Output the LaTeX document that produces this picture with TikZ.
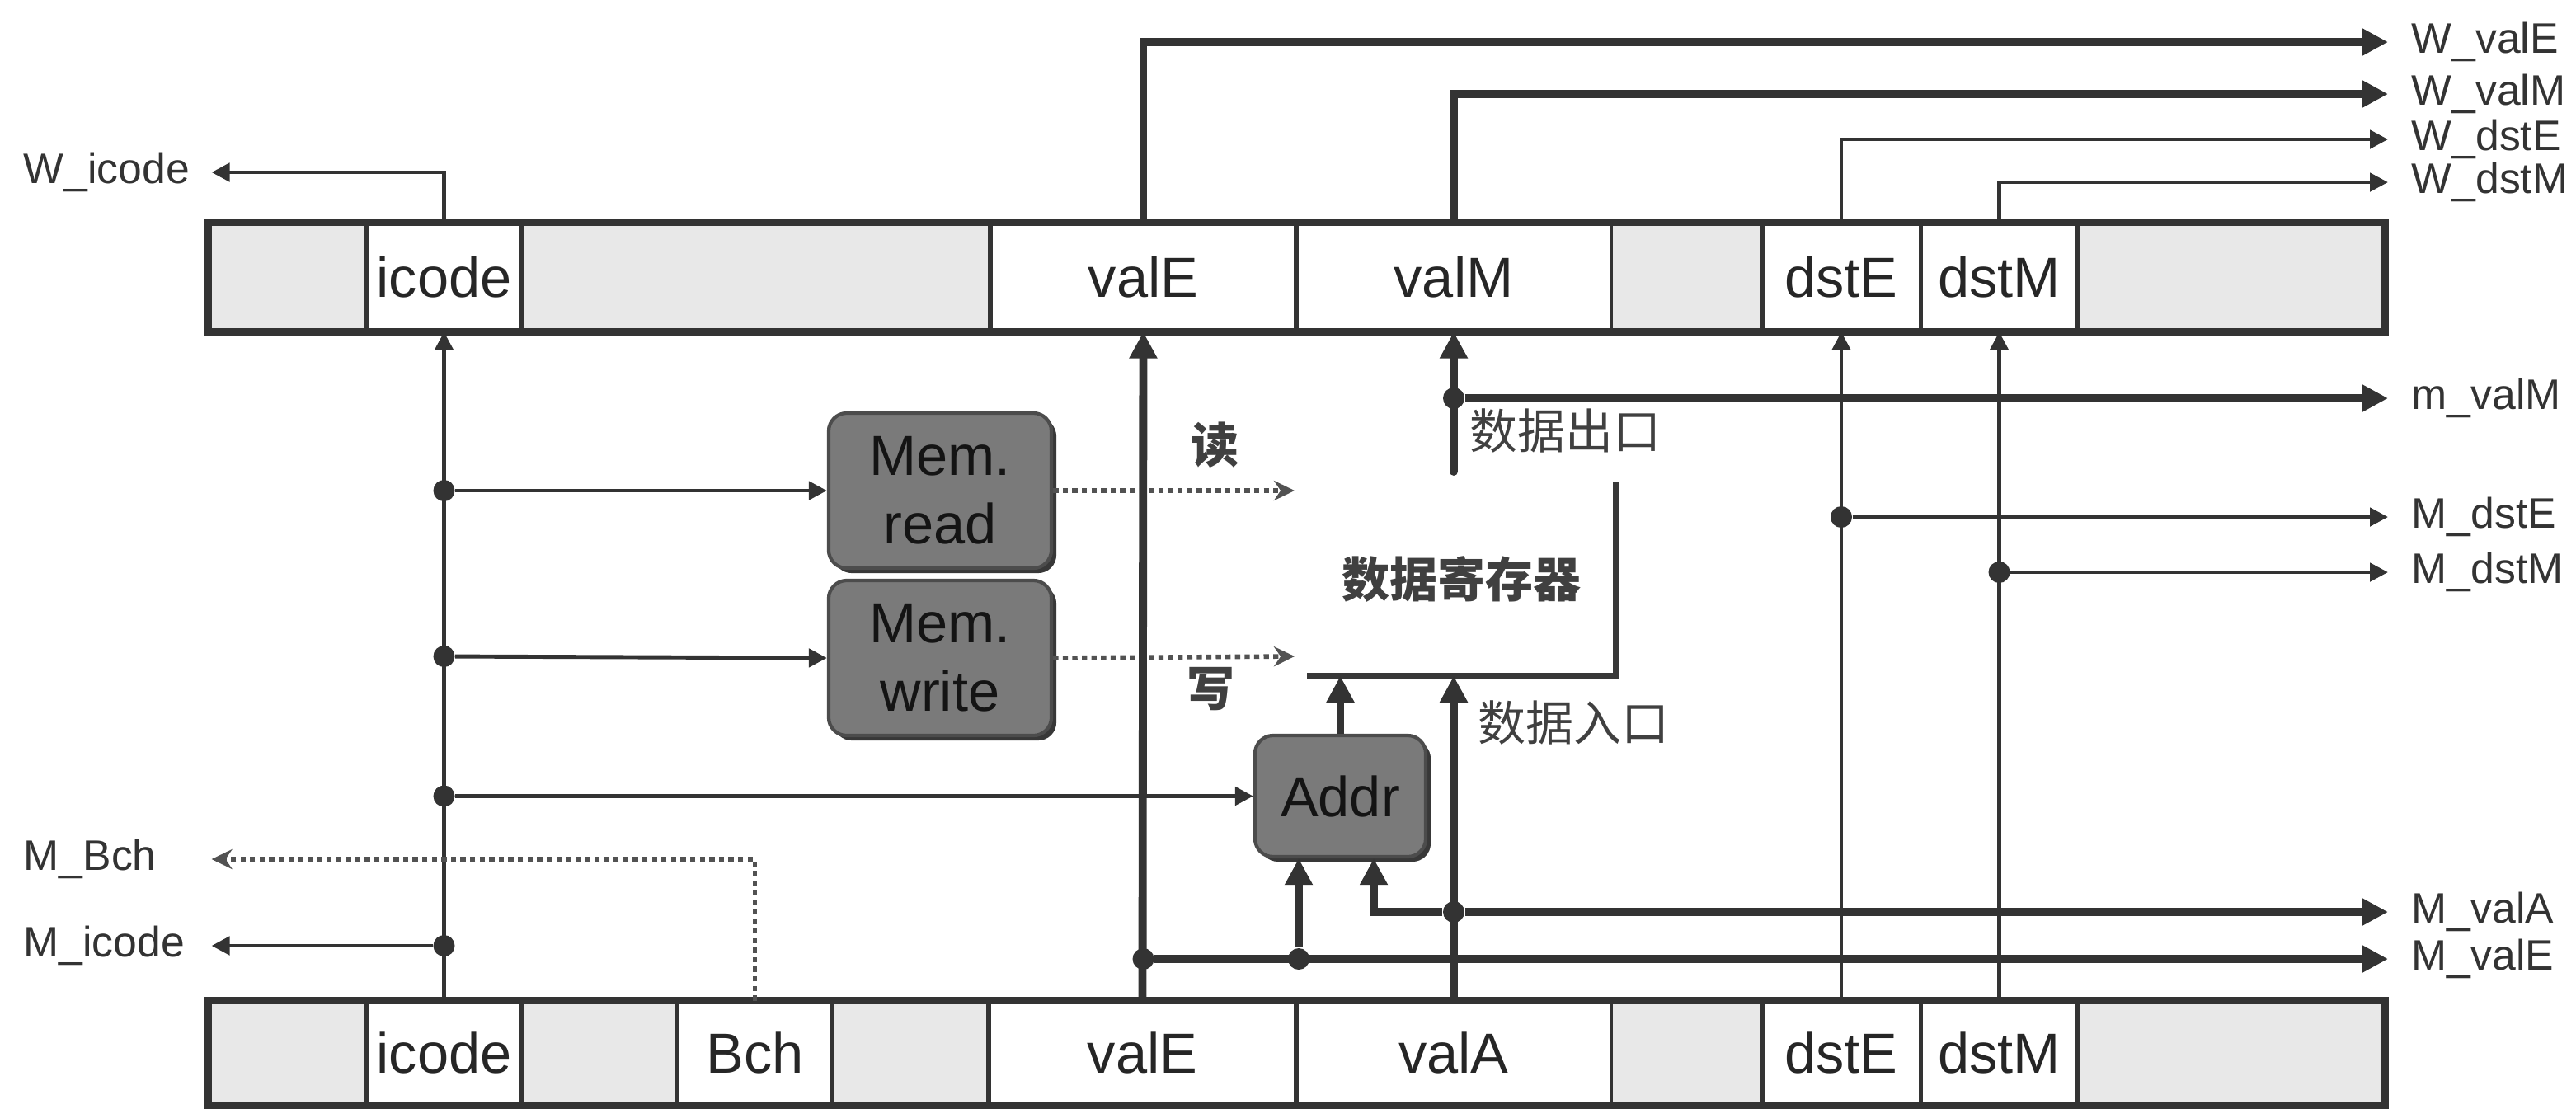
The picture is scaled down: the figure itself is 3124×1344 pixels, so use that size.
\documentclass[tikz,border=0pt]{standalone}
\usepackage{fontspec}
\setmainfont{Liberation Sans}
\newfontfamily\cjk{Noto Sans CJK SC}
\usetikzlibrary{arrows.meta,shadows}

\tikzset{
  cell/.style={draw=black!80, line width=1.4pt, minimum height=1.28cm, inner sep=0,
    font=\fontsize{19.5}{20}\selectfont, text=black!85},
  emptycell/.style={cell, fill=black!9},
  regframe/.style={draw=black!80, line width=2.6pt},
  memframe/.style={draw=black!78, line width=2.4pt},
  lbl/.style={font=\fontsize{14.7}{15}\selectfont, text=black!80, inner xsep=0.28cm, inner ysep=0},
  lbll/.style={lbl, anchor=west, text width=1.99cm, align=left},
  ctlbox/.style={draw=black!70, line width=1.2pt, fill=black!52, rounded corners=0.22cm,
    minimum width=2.7cm, minimum height=1.88cm, align=center, inner sep=0,
    font=\fontsize{19.5}{23.6}\selectfont, text=black!92,
    drop shadow={shadow xshift=0.06cm, shadow yshift=-0.06cm, fill=black!78, opacity=1}},
  joint/.style={circle, fill=black!80, inner sep=0, minimum size=0.26cm},
  wire/.style={draw=black!80, line width=1.4pt, -{Triangle[length=0.22cm,width=0.22cm]}},
  bus/.style={draw=black!80, line width=2.8pt, -{Triangle[length=0.32cm,width=0.32cm]}},
  ctrl/.style={draw=black!68, line width=1.6pt, dash pattern=on 1.8pt off 1.5pt,
    -{Stealth[length=0.25cm,width=0.24cm]}},
  zh/.style={font=\cjk\fontsize{16.5}{17}\selectfont, text=black!75, inner sep=0},
  zhb/.style={zh, font=\cjk\bfseries\fontsize{16.5}{17}\selectfont}
}

\begin{document}
\begin{tikzpicture}[x=0.01cm, y=-0.01cm]
  \useasboundingbox (0,0) rectangle (3124,1344);

  % W register
  \node[emptycell, minimum width=1.89cm] (W0) at (349.5,336) {};
  \node[cell, minimum width=1.89cm] (Wicode) at (538.5,336) {icode};
  \node[emptycell, minimum width=5.68cm] (W1) at (917,336) {};
  \node[cell, minimum width=3.71cm] (WvalE) at (1386.5,336) {valE};
  \node[cell, minimum width=3.82cm] (WvalM) at (1763,336) {valM};
  \node[emptycell, minimum width=1.83cm] (W2) at (2045.5,336) {};
  \node[cell, minimum width=1.92cm] (WdstE) at (2233,336) {dstE};
  \node[cell, minimum width=1.91cm] (WdstM) at (2424.5,336) {dstM};
  \node[emptycell, minimum width=3.70cm] (W3) at (2705,336) {};
  \draw[regframe] (W0.north west) rectangle (W3.south east);

  % M register
  \node[emptycell, minimum width=1.89cm, minimum height=1.22cm] (M0) at (349.5,1277) {};
  \node[cell, minimum width=1.89cm, minimum height=1.22cm] (Micode) at (538.5,1277) {icode};
  \node[emptycell, minimum width=1.88cm, minimum height=1.22cm] (M1) at (727,1277) {};
  \node[cell, minimum width=1.89cm, minimum height=1.22cm] (MBch) at (915.5,1277) {Bch};
  \node[emptycell, minimum width=1.89cm, minimum height=1.22cm] (M2) at (1104.5,1277) {};
  \node[cell, minimum width=3.73cm, minimum height=1.22cm] (MvalE) at (1385.5,1277) {valE};
  \node[cell, minimum width=3.82cm, minimum height=1.22cm] (MvalA) at (1763,1277) {valA};
  \node[emptycell, minimum width=1.83cm, minimum height=1.22cm] (M3) at (2045.5,1277) {};
  \node[cell, minimum width=1.92cm, minimum height=1.22cm] (MdstE) at (2233,1277) {dstE};
  \node[cell, minimum width=1.91cm, minimum height=1.22cm] (MdstM) at (2424.5,1277) {dstM};
  \node[emptycell, minimum width=3.70cm, minimum height=1.22cm] (M4) at (2705,1277) {};
  \draw[regframe] (M0.north west) rectangle (M4.south east);

  % outputs
  \node[lbll] (lWicode) at (0,209) {W\_icode};
  \node[lbll] (lMBch) at (0,1042) {M\_Bch};
  \node[lbll] (lMicode) at (0,1147) {M\_icode};
  \node[lbl, anchor=west] (lWvalE) at (2896,51) {W\_valE};
  \node[lbl, anchor=west] (lWvalM) at (2896,114) {W\_valM};
  \node[lbl, anchor=west] (lWdstE) at (2896,169) {W\_dstE};
  \node[lbl, anchor=west] (lWdstM) at (2896,221) {W\_dstM};
  \node[lbl, anchor=west] (lmvalM) at (2896,483) {m\_valM};
  \node[lbl, anchor=west] (lMdstE) at (2896,627) {M\_dstE};
  \node[lbl, anchor=west] (lMdstM) at (2896,694) {M\_dstM};
  \node[lbl, anchor=west] (lMvalA) at (2896,1106) {M\_valA};
  \node[lbl, anchor=west] (lMvalE) at (2896,1163) {M\_valE};

  % memory and control
  \node[zhb, minimum width=3.73cm, minimum height=2.33cm] (mem) at (1772.5,702.5) {数据寄存器};
  \draw[memframe] (mem.north east) -- (mem.south east) -- (mem.south west);
  \node[ctlbox] (rd) at (1140,595) {Mem.\\read};
  \node[ctlbox] (wr) at (1140,798) {Mem.\\write};
  \node[ctlbox, minimum width=2.07cm, minimum height=1.47cm] (addr) at (1625.5,965.5) {Addr};
  \coordinate (memRd) at (1570,595);
  \coordinate (memWr) at (1570,796);
  \coordinate (memOut) at (1763,572);
  \node[zhb] (rdtxt) at (1473,540) {读};
  \node[zhb] (wrtxt) at (1468,836) {写};
  \node[zh, anchor=west] (outtxt) at (1782,522) {数据出口};
  \node[zh, anchor=west] (intxt) at (1792,876) {数据入口};

  % joints
  \node[joint] (jIc1) at (538.5,595) {};
  \node[joint] (jIc2) at (538.5,796) {};
  \node[joint] (jIc3) at (538.5,965.5) {};
  \node[joint] (jIc4) at (538.5,1147) {};
  \node[joint] (jOut) at (1763,483) {};
  \node[joint] (jDstE) at (2233,627) {};
  \node[joint] (jDstM) at (2424.5,694) {};
  \node[joint] (jValE) at (1386.5,1163) {};
  \node[joint] (jAddrA) at (1575,1163) {};
  \node[joint] (jValA) at (1763,1106) {};

  % icode
  \draw[wire] (Micode.north) -- (Wicode.south);
  \draw[wire] (Wicode.north) |- (lWicode);
  \draw[wire] (jIc1) -- (rd.west);
  \draw[wire] (jIc2) -- (wr.west);
  \draw[wire] (jIc3) -- (addr.west);
  \draw[wire] (jIc4) -- (lMicode);
  \draw[ctrl] (MBch.north) |- (lMBch);
  \draw[ctrl] (rd.east) -- (memRd);
  \draw[ctrl] (wr.east) -- (memWr);

  % data
  \draw[bus] (MvalE.north) -- (WvalE.south);
  \draw[bus] (WvalE.north) |- (lWvalE);
  \draw[bus] (jValE) -- (lMvalE);
  \draw[bus] (jAddrA) -- (jAddrA |- addr.south);
  \draw[bus] (MvalA.north) -- (MvalA.north |- mem.south);
  \draw[bus] (jValA) -- (lMvalA);
  \draw[bus] (jValA) -| ([xshift=0.405cm]addr.south);
  \draw[bus] (addr.north) -- (addr.north |- mem.south);
  \draw[bus, line cap=round] (memOut) -- (WvalM.south);
  \draw[bus] (jOut) -- (lmvalM);
  \draw[bus] (WvalM.north) |- (lWvalM);

  % destinations
  \draw[wire] (MdstE.north) -- (WdstE.south);
  \draw[wire] (MdstM.north) -- (WdstM.south);
  \draw[wire] (WdstE.north) |- (lWdstE);
  \draw[wire] (WdstM.north) |- (lWdstM);
  \draw[wire] (jDstE) -- (lMdstE);
  \draw[wire] (jDstM) -- (lMdstM);
\end{tikzpicture}
\end{document}
